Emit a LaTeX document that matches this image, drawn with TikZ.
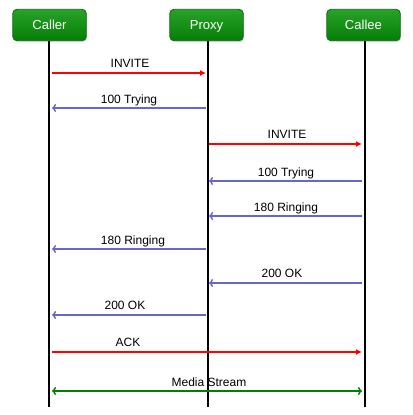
\documentclass[tikz,border=0pt]{standalone}
\usepackage{fontspec}
\setmainfont{Liberation Sans}
\usetikzlibrary{arrows.meta,shadows}
\definecolor{reqred}{HTML}{FF0000}
\definecolor{respblue}{HTML}{6666CC}
\definecolor{mediagreen}{HTML}{008000}
\definecolor{boxtop}{HTML}{28A228}
\definecolor{boxbot}{HTML}{047E06}
\definecolor{boxedge}{HTML}{0A6A0A}
\begin{document}
\begin{tikzpicture}[x=0.75pt,y=-0.75pt,
  party/.style={draw=boxedge,line width=0.6pt,rounded corners=3pt,
    top color=boxtop,bottom color=boxbot,minimum width=55pt,minimum height=23.5pt,
    text=white,font=\fontsize{9.8pt}{11pt}\selectfont,inner sep=0pt,
    text height=7pt,text depth=0pt,
    drop shadow={shadow xshift=0.8pt,shadow yshift=-0.8pt,opacity=0.35}},
  lifeline/.style={line width=1.5pt,black},
  req/.style={draw=reqred,line width=1.45pt,-{Latex[length=4.5pt,width=4.5pt]}},
  resp/.style={draw=respblue,line width=1.45pt,-{To[length=3pt,width=6pt,line width=1.1pt]}},
  media/.style={draw=mediagreen,line width=1.45pt,{To[length=3pt,width=6pt,line width=1.1pt]}-{To[length=3pt,width=6pt,line width=1.1pt]}},
  msg/.style={font=\fontsize{9pt}{10pt}\selectfont,inner sep=0pt,anchor=base}]
\useasboundingbox (0,0) rectangle (412,415);

% parties
\node[party] (caller) at (49.5,25) {Caller};
\node[party] (proxy) at (206.5,25) {Proxy};
\node[party] (callee) at (363.5,25) {Callee};

% lifelines
\coordinate (callerEnd) at (49,407);
\coordinate (proxyEnd) at (208,407);
\coordinate (calleeEnd) at (365,407);
\draw[lifeline] (caller.south -| callerEnd) -- (callerEnd);
\draw[lifeline] (proxy.south -| proxyEnd) -- (proxyEnd);
\draw[lifeline] (callee.south -| calleeEnd) -- (calleeEnd);

% message anchors on the lifelines
\foreach \n/\y in {1/73,2/108,3/144,4/181,5/216,6/249,7/283,8/315,9/352,10/391}{
  \coordinate (a\n) at (52,\y);
  \coordinate (b\n) at (206,\y);
  \coordinate (c\n) at (209,\y);
  \coordinate (d\n) at (362,\y);
}

\draw[req] (a1) -- (b1);
\node[msg] (m1) at (130,67) {INVITE};
\draw[resp] (b2) -- (a2);
\node[msg] (m2) at (129,103) {100 Trying};
\draw[req] (c3) -- (d3);
\node[msg] (m3) at (287,138) {INVITE};
\draw[resp] (d4) -- (c4);
\node[msg] (m4) at (286,176) {100 Trying};
\draw[resp] (d5) -- (c5);
\node[msg] (m5) at (286,211) {180 Ringing};
\draw[resp] (b6) -- (a6);
\node[msg] (m6) at (133,244) {180 Ringing};
\draw[resp] (d7) -- (c7);
\node[msg] (m7) at (282,277) {200 OK};
\draw[resp] (b8) -- (a8);
\node[msg] (m8) at (125,309) {200 OK};
\draw[req] (a9) -- (d9);
\node[msg] (m9) at (128,346) {ACK};
\draw[media] (a10) -- (d10);
\node[msg] (m10) at (209,386) {Media Stream};
\end{tikzpicture}
\end{document}
